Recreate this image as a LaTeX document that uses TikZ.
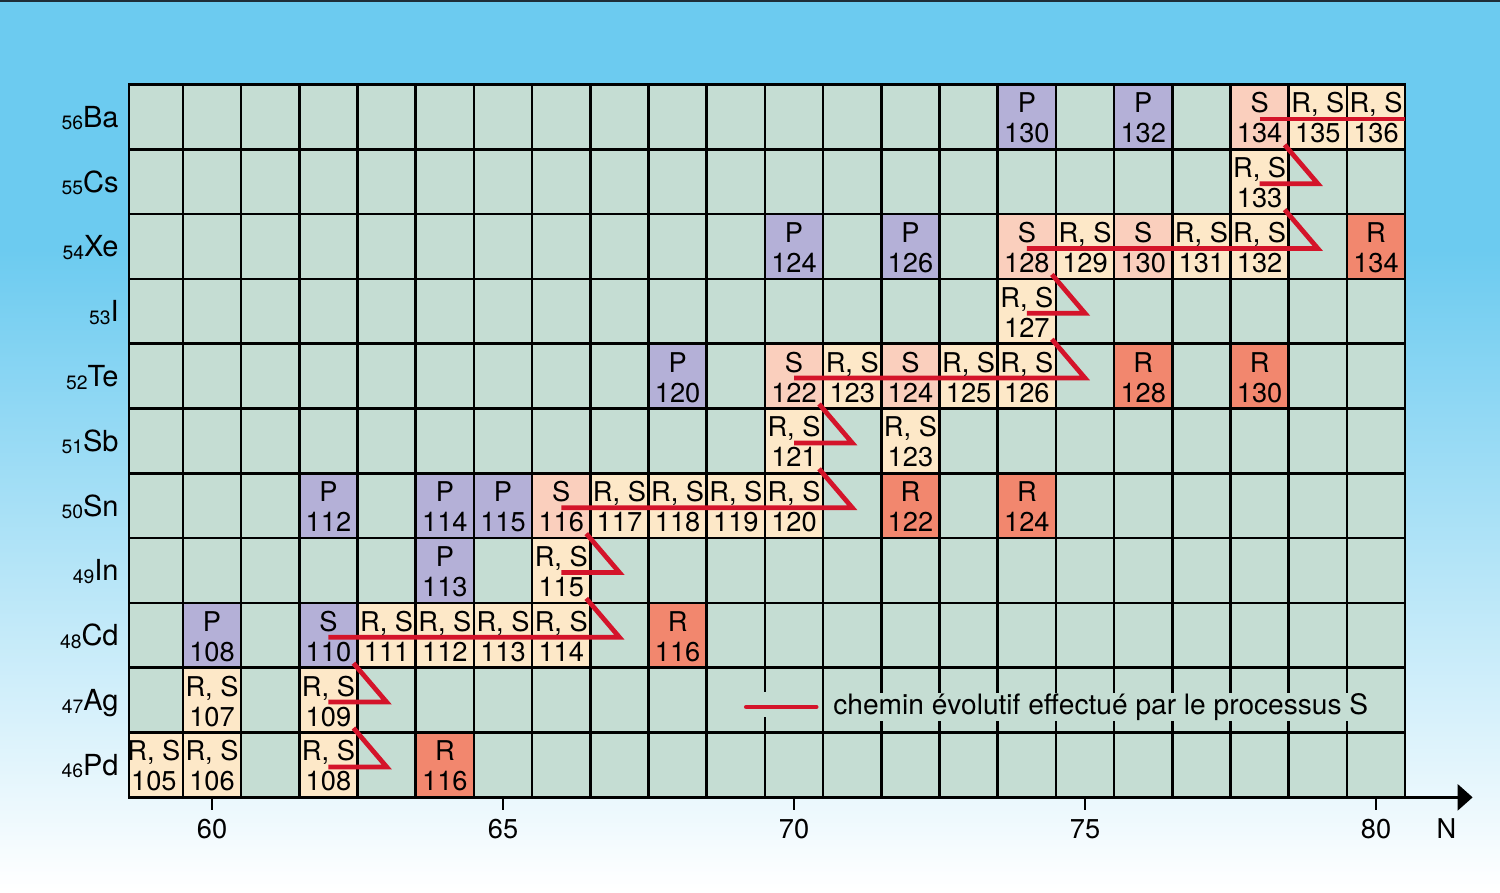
\documentclass[tikz,border=0pt]{standalone}
\usepackage{fontspec}
\setmainfont{TeX Gyre Heros}
\usepackage{tikz}
\usetikzlibrary{arrows.meta}

\definecolor{skytop}{HTML}{6CCBF0}
\definecolor{topline}{HTML}{1E2E38}
\definecolor{gridbg}{HTML}{C5DDD3}
\definecolor{pcol}{HTML}{B4B0D7}
\definecolor{rcol}{HTML}{F2876E}
\definecolor{rscol}{HTML}{FDE8C8}
\definecolor{scol}{HTML}{FACFBD}
\definecolor{sred}{HTML}{D4142A}

\newcommand\cellsize{\fontsize{15.5}{17}\selectfont}
\newcommand\labsize{\fontsize{16.5}{18}\selectfont}
\newcommand\axsize{\fontsize{15.5}{17}\selectfont}
\newcommand\subsize{\fontsize{11}{12}\selectfont}
\newcommand\legsize{\fontsize{16}{18}\selectfont}

% N / Z / kind / label / element / mass number
\def\celllist{%
  59/46/rscell/{R, S}/Pd/105, 60/46/rscell/{R, S}/Pd/106, 62/46/rscell/{R, S}/Pd/108, 64/46/rcell/R/Pd/116,
  60/47/rscell/{R, S}/Ag/107, 62/47/rscell/{R, S}/Ag/109,
  60/48/pcell/P/Cd/108, 62/48/pcell/S/Cd/110, 63/48/rscell/{R, S}/Cd/111, 64/48/rscell/{R, S}/Cd/112,
  65/48/rscell/{R, S}/Cd/113, 66/48/rscell/{R, S}/Cd/114, 68/48/rcell/R/Cd/116,
  64/49/pcell/P/In/113, 66/49/rscell/{R, S}/In/115,
  62/50/pcell/P/Sn/112, 64/50/pcell/P/Sn/114, 65/50/pcell/P/Sn/115, 66/50/scell/S/Sn/116,
  67/50/rscell/{R, S}/Sn/117, 68/50/rscell/{R, S}/Sn/118, 69/50/rscell/{R, S}/Sn/119, 70/50/rscell/{R, S}/Sn/120,
  72/50/rcell/R/Sn/122, 74/50/rcell/R/Sn/124,
  70/51/rscell/{R, S}/Sb/121, 72/51/rscell/{R, S}/Sb/123,
  68/52/pcell/P/Te/120, 70/52/scell/S/Te/122, 71/52/rscell/{R, S}/Te/123, 72/52/scell/S/Te/124,
  73/52/rscell/{R, S}/Te/125, 74/52/rscell/{R, S}/Te/126, 76/52/rcell/R/Te/128, 78/52/rcell/R/Te/130,
  74/53/rscell/{R, S}/I/127,
  70/54/pcell/P/Xe/124, 72/54/pcell/P/Xe/126, 74/54/scell/S/Xe/128, 75/54/rscell/{R, S}/Xe/129,
  76/54/scell/S/Xe/130, 77/54/rscell/{R, S}/Xe/131, 78/54/rscell/{R, S}/Xe/132, 80/54/rcell/R/Xe/134,
  78/55/rscell/{R, S}/Cs/133,
  74/56/pcell/P/Ba/130, 76/56/pcell/P/Ba/132, 78/56/scell/S/Ba/134, 79/56/rscell/{R, S}/Ba/135, 80/56/rscell/{R, S}/Ba/136}

\begin{document}
\begin{tikzpicture}[x=1.164cm, y=1.296cm,
    pcell/.style={fill=pcol}, rcell/.style={fill=rcol},
    rscell/.style={fill=rscol}, scell/.style={fill=scol},
    celltxt/.style={anchor=base, font=\cellsize, inner sep=0pt},
    gline/.style={line width=1.5pt},
    spath/.style={draw=sred, line width=2.7pt},
    rowlab/.style={anchor=base east, font=\labsize, inner sep=0pt},
    axlab/.style={anchor=base, font=\axsize, inner sep=0pt}]

    % Sky background
    \useasboundingbox (56.357,44.040) rectangle (82.131,57.806);
    \fill[skytop] (56.357,53.95) rectangle (82.131,57.806);
    \shade[top color=skytop, bottom color=white] (56.357,44.07) rectangle (82.131,53.95);
    \fill[white] (56.357,44.040) rectangle (82.131,44.07);
    \fill[topline] (56.357,57.768) rectangle (82.131,57.806);

    % Chart area
    \coordinate (SW) at (58.574,45.5);
    \coordinate (NE) at (80.5,56.5);
    \coordinate (axend) at (81.66,45.5);
    \fill[gridbg] (SW) rectangle (NE);

    % Coloured isotope cells
    \begin{scope}
      \clip (SW) rectangle (NE);
      \foreach \n/\z/\kind/\lab/\el/\a in \celllist {
        \fill[\kind] (\n-0.5,\z-0.5) rectangle (\n+0.5,\z+0.5);
        \coordinate (\el\a) at (\n,\z);
      }
    \end{scope}

    % Grid
    \foreach \n in {59.5,60.5,...,79.5} \draw[gline] (\n,45.5) -- (\n,56.5);
    \foreach \z in {46.5,47.5,...,55.5} \draw[gline] (58.574,\z) -- (80.5,\z);
    \draw[gline] (SW) rectangle (NE);

    % N axis
    \draw[line width=1.6pt, -{Triangle[length=0.3cm, width=0.52cm]}] (SW) -- (axend);
    \foreach \n in {60,65,...,80} {
      \draw[gline] (\n,45.5) -- (\n,45.31);
      \node[axlab] (tick\n) at (\n,44.87) {\n};
    }
    \node[axlab] (Nlab) at (81.21,44.87) {N};

    % Elements
    \foreach \z/\sym in {56/Ba,55/Cs,54/Xe,53/I,52/Te,51/Sb,50/Sn,49/In,48/Cd,47/Ag,46/Pd}
      \node[rowlab] (row\sym) at (58.40,\z-0.16) {\raisebox{-1.5pt}{\subsize\z}\sym};

    % Legend
    \coordinate (legA) at (69.18,46.895);
    \coordinate (legB) at (70.38,46.895);
    \fill[gridbg] (69.1,46.74) rectangle (70.45,47.13);
    \draw[spath, line cap=round] (legA) -- (legB);
    \node[anchor=base west, font=\legsize, fill=gridbg, inner xsep=1pt, inner ysep=0pt]
      (legtxt) at (70.64,46.78) {chemin évolutif effectué par le processus S};

    % s-process path
    \foreach \c/\len in {Pd108/1,Ag109/1,Cd110/5,In115/1,Sn116/5,Sb121/1,Te122/5,I127/1,Xe128/5,Cs133/1}
      \draw[spath] (\c) ++(0,-0.03) -- ++(\len,0) -- ++(-0.57,0.6);
    \draw[spath] (Ba134) ++(0,-0.03) -- ++(2.5,0);

    % Cell labels
    \foreach \n/\z/\kind/\lab/\el/\a in \celllist {
      \node[celltxt] (\el\a-l) at (\n,\z+0.062) {\lab};
      \node[celltxt] (\el\a-n) at (\n,\z-0.401) {\a};
    }
\end{tikzpicture}
\end{document}
